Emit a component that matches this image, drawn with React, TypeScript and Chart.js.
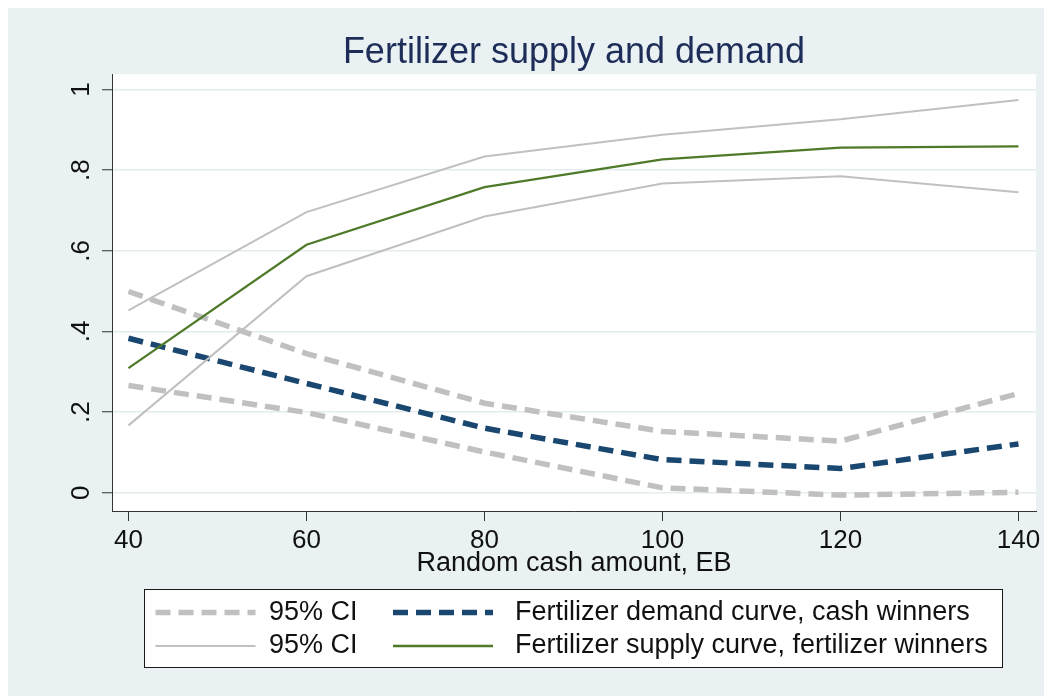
import React, { useEffect, useRef } from 'react';
import { Chart, registerables } from 'chart.js';

Chart.register(...registerables);

// ---------- data ----------
const cashAmounts = [40, 60, 80, 100, 120, 140];
const demandCurve = [0.383, 0.271, 0.16, 0.082, 0.06, 0.121];
const demandUpperCI = [0.499, 0.345, 0.222, 0.152, 0.128, 0.246];
const demandLowerCI = [0.266, 0.199, 0.101, 0.012, -0.006, 0.001];
const supplyCurve = [0.309, 0.615, 0.758, 0.827, 0.856, 0.859];
const supplyUpperCI = [0.452, 0.696, 0.834, 0.888, 0.926, 0.974];
const supplyLowerCI = [0.167, 0.537, 0.685, 0.767, 0.785, 0.745];

const xTickValues = [40, 60, 80, 100, 120, 140];
const yTickValues = [0, 0.2, 0.4, 0.6, 0.8, 1];
const yTickLabels = ['0', '.2', '.4', '.6', '.8', '1'];

const titleText = 'Fertilizer supply and demand';
const xAxisTitle = 'Random cash amount, EB';
const ciLabel = '95% CI';
const demandLabel = 'Fertilizer demand curve, cash winners';
const supplyLabel = 'Fertilizer supply curve, fertilizer winners';

// legend layout: rows of dataset indices
const legendRows = [
  [0, 2],
  [3, 5],
];

const FONT = "'Liberation Sans', Arial, Helvetica, sans-serif";
const BG = '#e9f1f3';
const GRAY = '#c0c0c0';
const NAVY = '#1a476f';
const GREEN = '#4e7a2a';

const toPoints = (ys: number[]) => cashAmounts.map((x, i) => ({ x, y: ys[i] }));

const backgroundPlugin = {
  id: 'stataBackground',
  beforeDraw(chart: any) {
    const { ctx, chartArea, width, height } = chart;
    ctx.save();
    ctx.fillStyle = BG;
    ctx.fillRect(0, 0, width, height);
    ctx.fillStyle = '#ffffff';
    ctx.fillRect(chartArea.left, chartArea.top, chartArea.right - chartArea.left, chartArea.bottom - chartArea.top);
    ctx.restore();
  },
};

const boxedLegendPlugin = {
  id: 'boxedLegend',
  afterDraw(chart: any) {
    const { ctx, chartArea } = chart;
    const boxLeft = chartArea.left + 32;
    const boxTop = chartArea.bottom + 78;
    const boxW = 858;
    const boxH = 78;
    ctx.save();
    ctx.fillStyle = '#ffffff';
    ctx.fillRect(boxLeft, boxTop, boxW, boxH);
    ctx.strokeStyle = '#1a1a1a';
    ctx.lineWidth = 1;
    ctx.strokeRect(Math.round(boxLeft) + 0.5, Math.round(boxTop) + 0.5, boxW, boxH);

    const sampleX = [boxLeft + 11.5, boxLeft + 249];
    const textX = [boxLeft + 125, boxLeft + 371];
    const rowY = [boxTop + 23.5, boxTop + 57];
    const sampleLen = 100;
    ctx.font = `27px ${FONT}`;
    ctx.textBaseline = 'middle';
    ctx.textAlign = 'left';
    legendRows.forEach((row, r) => {
      row.forEach((dsIndex, c) => {
        const ds = chart.data.datasets[dsIndex];
        const y = rowY[r];
        ctx.save();
        ctx.strokeStyle = ds.borderColor;
        ctx.lineWidth = ds.borderWidth;
        ctx.lineCap = 'butt';
        ctx.setLineDash(ds.borderDash || []);
        ctx.beginPath();
        ctx.moveTo(sampleX[c], y);
        ctx.lineTo(sampleX[c] + sampleLen, y);
        ctx.stroke();
        ctx.restore();
        ctx.fillStyle = '#111111';
        ctx.fillText(ds.label, textX[c], y);
      });
    });
    ctx.restore();
  },
};

export default function App() {
  const ref = useRef<HTMLCanvasElement>(null);

  useEffect(() => {
    document.documentElement.style.overflow = 'hidden';
    document.body.style.overflow = 'hidden';
    Chart.defaults.font.family = FONT;
    const canvas = ref.current;
    if (!canvas) return;

    const dashed = [15, 8];
    const datasets: any[] = [
      { label: ciLabel, data: toPoints(demandUpperCI), borderColor: GRAY, borderWidth: 5.5, borderDash: dashed },
      { label: ciLabel, data: toPoints(demandLowerCI), borderColor: GRAY, borderWidth: 5.5, borderDash: dashed },
      { label: demandLabel, data: toPoints(demandCurve), borderColor: NAVY, borderWidth: 5.5, borderDash: dashed },
      { label: ciLabel, data: toPoints(supplyUpperCI), borderColor: GRAY, borderWidth: 2 },
      { label: ciLabel, data: toPoints(supplyLowerCI), borderColor: GRAY, borderWidth: 2 },
      { label: supplyLabel, data: toPoints(supplyCurve), borderColor: GREEN, borderWidth: 2.3 },
    ].map((d, i, arr) => ({
      ...d,
      backgroundColor: d.borderColor,
      pointRadius: 0,
      pointHoverRadius: 0,
      tension: 0,
      fill: false,
      borderCapStyle: 'butt',
      borderJoinStyle: 'miter',
      order: arr.length - i,
    }));

    const chart = new Chart(canvas, {
      type: 'line',
      data: { datasets },
      plugins: [backgroundPlugin, boxedLegendPlugin],
      options: {
        animation: false,
        responsive: false,
        devicePixelRatio: 1,
        layout: { padding: { left: 0, right: 16, top: 0, bottom: 110 } },
        plugins: {
          legend: { display: false },
          tooltip: { enabled: false },
          title: {
            display: true,
            text: titleText,
            fullSize: false,
            color: '#1e2c58',
            font: { size: 36, weight: 'normal', lineHeight: 1.2, family: FONT },
            padding: { top: 23, bottom: 0 },
          },
        },
        scales: {
          x: {
            type: 'linear',
            min: 38.15,
            max: 141.97,
            afterBuildTicks: (scale: any) => {
              scale.ticks = xTickValues.map((v) => ({ value: v }));
            },
            afterFit: (scale: any) => {
              scale.height = 75;
            },
            ticks: {
              autoSkip: false,
              minRotation: 0,
              maxRotation: 0,
              padding: 4,
              color: '#111111',
              font: { size: 26, family: FONT },
              callback: (v: any) => String(v),
            },
            grid: {
              drawOnChartArea: false,
              drawTicks: true,
              tickLength: 10,
              tickColor: '#333333',
              tickWidth: 1,
            },
            border: { display: true, color: '#333333', width: 1 },
            title: {
              display: true,
              text: xAxisTitle,
              color: '#111111',
              font: { size: 27, family: FONT },
              padding: { top: 0, bottom: 6 },
            },
          },
          y: {
            type: 'linear',
            min: -0.0454,
            max: 1.038,
            afterBuildTicks: (scale: any) => {
              scale.ticks = yTickValues.map((v) => ({ value: v }));
            },
            afterFit: (scale: any) => {
              scale.width = 104;
            },
            ticks: {
              autoSkip: false,
              minRotation: 90,
              maxRotation: 90,
              crossAlign: 'center',
              padding: 9,
              color: '#111111',
              font: { size: 26, family: FONT },
              callback: (v: any) => {
                const idx = yTickValues.findIndex((t) => Math.abs(t - Number(v)) < 1e-9);
                return idx >= 0 ? yTickLabels[idx] : '';
              },
            },
            grid: {
              color: '#e3ecef',
              lineWidth: 1.5,
              drawTicks: true,
              tickLength: 10,
              tickColor: '#333333',
              tickWidth: 1,
            },
            border: { display: true, color: '#333333', width: 1 },
          },
        },
      } as any,
    });

    return () => chart.destroy();
  }, []);

  return (
    <canvas
      ref={ref}
      width={1044}
      height={688}
      style={{ display: 'block', width: '1044px', height: '688px' }}
    />
  );
}
